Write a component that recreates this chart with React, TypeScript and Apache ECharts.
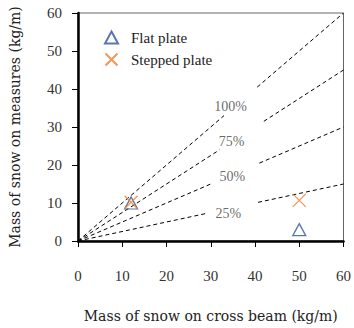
import React, { useEffect, useRef } from "react";
import * as echarts from "echarts";

const seriesNames = ["Flat plate", "Stepped plate"];
const flatPlate = [
  [12, 10],
  [50, 3],
];
const steppedPlate = [
  [12, 10.2],
  [50, 10.7],
];
const ratioNames = ["100%", "75%", "50%", "25%"];
// dashed reference lines y = ratio * x, each broken where its label sits
const line100 = [[[0, 0], [33, 33]], [[40.5, 40.5], [60, 60]]];
const line75 = [[[0, 0], [32, 24]], [[42, 31.5], [60, 45]]];
const line50 = [[[0, 0], [30, 15]], [[41, 20.5], [60, 30]]];
const line25 = [[[0, 0], [29, 7.25]], [[40.7, 10.175], [60, 15]]];
const ratioLabelPoints = [
  [34.5, 35.5],
  [34.7, 26.1],
  [34.9, 16.9],
  [34.0, 7.2],
];
const xTitle = "Mass of snow on cross beam (kg/m)";
const yTitle = "Mass of snow on measures (kg/m)";

const SERIF = "'DejaVu Serif', serif";
const SERIF2 = "'Liberation Serif', serif";

export default function App() {
  const ref = useRef<HTMLDivElement>(null);
  useEffect(() => {
    if (!ref.current) return;
    const chart = echarts.init(ref.current, undefined, { renderer: "svg" });
    const dashed: any[] = [];
    [line100, line75, line50, line25].forEach((segs) => {
      segs.forEach((seg) => {
        dashed.push({
          type: "line",
          data: seg,
          symbol: "none",
          silent: true,
          lineStyle: { color: "#000", width: 1, type: [4, 3] },
          z: 1,
        });
      });
    });
    chart.setOption({
      animation: false,
      backgroundColor: "#fff",
      grid: {
        left: 78,
        right: 7,
        top: 13,
        bottom: 80,
        show: true,
        borderColor: "#666",
        borderWidth: 1,
      },
      legend: {
        data: seriesNames,
        orient: "vertical",
        left: 99,
        top: 25,
        itemWidth: 13,
        itemHeight: 12,
        itemGap: 7,
        textStyle: {
          fontFamily: SERIF2,
          fontSize: 15,
          color: "#222",
          padding: [0, 0, 0, 8],
        },
      },
      xAxis: {
        type: "value",
        min: 0,
        max: 60,
        interval: 10,
        name: xTitle,
        nameLocation: "middle",
        nameGap: 68,
        nameTextStyle: { fontFamily: SERIF, fontSize: 14, color: "#222" },
        axisLine: { lineStyle: { color: "#000", width: 2.5 } },
        axisTick: { show: true, inside: false, length: 6, lineStyle: { color: "#000", width: 1 } },
        axisLabel: { margin: 27, fontFamily: SERIF2, fontSize: 15, color: "#333" },
        splitLine: { show: false },
      },
      yAxis: {
        type: "value",
        min: 0,
        max: 60,
        interval: 10,
        name: yTitle,
        nameLocation: "middle",
        nameGap: 56,
        nameTextStyle: { fontFamily: SERIF, fontSize: 14, color: "#222" },
        axisLine: { show: true, lineStyle: { color: "#000", width: 2.5 } },
        axisTick: { show: true, inside: false, length: 6, lineStyle: { color: "#000", width: 1 } },
        axisLabel: { margin: 16, fontFamily: SERIF2, fontSize: 15, color: "#333" },
        splitLine: { show: false },
      },
      series: [
        ...dashed,
        {
          type: "scatter",
          data: ratioLabelPoints.map((p, i) => ({ value: p, name: ratioNames[i] })),
          symbolSize: 1,
          itemStyle: { color: "transparent" },
          silent: true,
          z: 3,
          label: {
            show: true,
            position: "inside",
            formatter: (p: any) => p.name,
            fontFamily: SERIF2,
            fontSize: 14,
            color: "#444",
          },
        },
        {
          name: seriesNames[0],
          type: "scatter",
          data: flatPlate,
          symbol: "triangle",
          symbolSize: [13, 12],
          itemStyle: { color: "transparent", borderColor: "#2F5597", borderWidth: 1.3 },
          z: 4,
        },
        {
          name: seriesNames[1],
          type: "scatter",
          data: steppedPlate,
          symbol: "path://M0,0L10,10M10,0L0,10",
          symbolSize: 13,
          itemStyle: { color: "transparent", borderColor: "#ED7D31", borderWidth: 1.3 },
          z: 5,
        },
      ],
    });
    return () => chart.dispose();
  }, []);
  return <div ref={ref} style={{ width: 354, height: 328, position: "absolute", left: 0, top: 0 }} />;
}
